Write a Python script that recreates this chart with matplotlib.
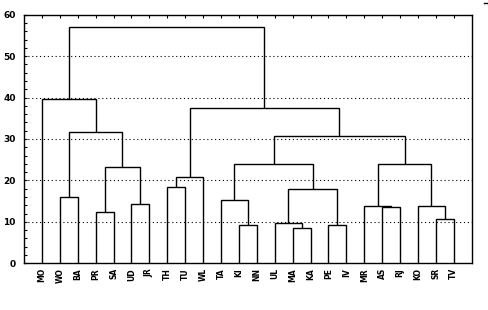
import matplotlib
matplotlib.use("Agg")
import matplotlib.pyplot as plt
from matplotlib.ticker import MultipleLocator
from matplotlib.lines import Line2D

# Leaf labels in dendrogram order
labels = ["MO", "WO", "BA", "PR", "SA", "UD", "JR", "TH", "TU", "WL", "TA", "KI",
          "NN", "UL", "MA", "KA", "PE", "IV", "MR", "AS", "RJ", "KO", "SR", "TV"]

# Merges (linkage-like): node ids 0..23 are leaves, merge k gets id 24+k
merge_left = [11, 14, 13, 16, 19, 22, 3, 5, 1, 7, 10, 26, 18, 21, 33, 30, 34, 36, 32, 40, 38, 0, 45]
merge_right = [12, 15, 25, 17, 20, 23, 4, 6, 2, 8, 24, 27, 28, 29, 9, 31, 35, 37, 39, 41, 43, 42, 44]
merge_height = [9.2, 8.4, 9.65, 9.2, 13.5, 10.6, 12.3, 14.2, 15.9, 18.3, 15.2, 17.9,
                13.75, 13.75, 20.8, 23.2, 23.9, 23.9, 31.6, 30.7, 37.4, 39.6, 57.0]

y_ticks = [0, 10, 20, 30, 40, 50, 60]

fig = plt.figure(figsize=(4.89, 3.10), dpi=100)
ax = fig.add_axes([24 / 489, 1 - 263.3 / 310, (471.7 - 24) / 489, (263.3 - 14.7) / 310])

n = len(labels)
pos_x = {i: i + 1 for i in range(n)}
pos_y = {i: 0.0 for i in range(n)}
for k, (a, b, h) in enumerate(zip(merge_left, merge_right, merge_height)):
    node = n + k
    xa, xb = pos_x[a], pos_x[b]
    ya, yb = pos_y[a], pos_y[b]
    ax.plot([xa, xa, xb, xb], [ya, h, h, yb], color="black", lw=1.0,
            solid_capstyle="butt", solid_joinstyle="miter", zorder=3)
    pos_x[node] = (xa + xb) / 2
    pos_y[node] = h

ax.set_xlim(0, 25)
ax.set_ylim(0, 60)
ax.set_yticks(y_ticks)
ax.yaxis.set_minor_locator(MultipleLocator(2))
ax.set_xticks(range(1, n + 1))
ax.set_xticklabels(labels, rotation=90, fontsize=5.5, fontweight="bold")
ax.tick_params(axis="x", which="both", direction="in", length=2.5, width=0.8,
               bottom=False, top=True, pad=3.5)
ax.tick_params(axis="y", which="both", direction="in", length=2, width=0.8,
               left=True, right=False, labelsize=6.5, pad=6)
for lab in ax.get_yticklabels():
    lab.set_fontweight("bold")

for v in y_ticks[1:-1]:
    ax.axhline(v, color="black", lw=0.8, linestyle=(0, (1, 2.5)), zorder=1)

for s in ax.spines.values():
    s.set_linewidth(1.0)
    s.set_color("black")

fig.add_artist(Line2D([484 / 489, 488 / 489], [1 - 2.5 / 310, 1 - 2.5 / 310],
                      color="black", lw=1.0))

fig.savefig("out.png", dpi=100)
